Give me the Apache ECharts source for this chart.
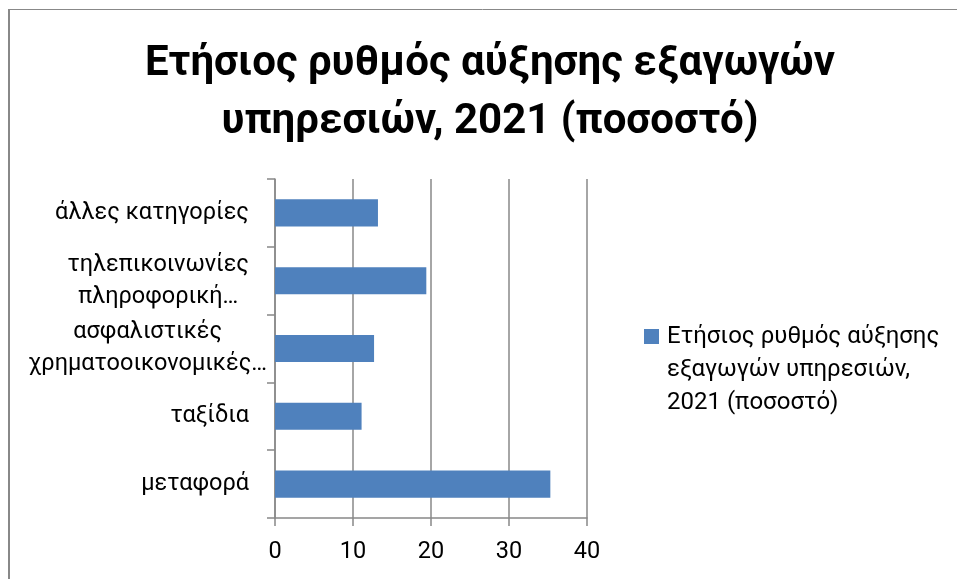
<!DOCTYPE html>
<html>
<head>
<meta charset="utf-8">
<script src="https://cdn.jsdelivr.net/npm/echarts@6/dist/echarts.min.js"></script>
<style>
html,body{margin:0;padding:0;background:#fff;}
#chart{width:957px;height:579px;}
</style>
</head>
<body>
<div id="chart"></div>
<script>
var titleText = 'Ετήσιος ρυθμός αύξησης εξαγωγών\nυπηρεσιών, 2021 (ποσοστό)';
var seriesName = 'Ετήσιος ρυθμός αύξησης\nεξαγωγών υπηρεσιών,\n2021 (ποσοστό)';
var categories = ['μεταφορά', 'ταξίδια', 'ασφαλιστικές\nχρηματοοικονομικές…', 'τηλεπικοινωνίες\nπληροφορική…', 'άλλες κατηγορίες'];
var values = [35.3, 11.1, 12.7, 19.4, 13.2];
var xTicks = [0, 10, 20, 30, 40];

var FONT = 'Roboto';
var GRAY = '#888888';
var widest = categories[2];

var chart = echarts.init(document.getElementById('chart'), null, {renderer: 'canvas'});
chart.setOption({
  backgroundColor: '#ffffff',
  animation: false,
  title: {
    text: titleText,
    left: 490,
    top: 35,
    padding: 0,
    textAlign: 'center',
    textStyle: {fontFamily: FONT, fontWeight: 'bold', fontSize: 42, lineHeight: 58, color: '#000'}
  },
  legend: {
    data: [seriesName],
    left: 644,
    top: 320,
    padding: 0,
    itemWidth: 15,
    itemHeight: 81,
    icon: 'path://M0,0h15v15h-15z M0,80.99h15v0.01h-15z',
    textStyle: {fontFamily: FONT, fontSize: 24, lineHeight: 33, color: '#000', padding: [0, 0, 0, 3]}
  },
  grid: {left: 275, top: 179, width: 312, height: 339, outerBoundsMode: 'none', containLabel: false},
  xAxis: {
    type: 'value',
    min: xTicks[0],
    max: xTicks[xTicks.length - 1],
    interval: xTicks[1] - xTicks[0],
    axisLine: {show: true, lineStyle: {color: GRAY, width: 1.5}},
    axisTick: {show: true, length: 8, lineStyle: {color: GRAY, width: 1.5}},
    splitLine: {show: true, lineStyle: {color: GRAY, width: 1.5}},
    axisLabel: {margin: 22, fontFamily: FONT, fontSize: 23.5, color: '#000'}
  },
  yAxis: {
    type: 'category',
    data: categories.map(function (c) {
      return {value: c, textStyle: {padding: c === widest ? 0 : [0, 18, 0, 0]}};
    }),
    axisLine: {show: true, lineStyle: {color: GRAY, width: 1.5}},
    axisTick: {show: true, length: 8, lineStyle: {color: GRAY, width: 1.5}},
    splitLine: {show: false},
    axisLabel: {
      margin: 8,
      fontFamily: FONT,
      fontSize: 23.5,
      lineHeight: 32,
      color: '#000',
      formatter: function (v) {
        return v.split('\n').map(function (l) { return '{c|' + l + '}'; }).join('\n');
      },
      rich: {c: {align: 'center', fontFamily: FONT, fontSize: 23.5, lineHeight: 32, color: '#000'}}
    }
  },
  series: [{
    name: seriesName,
    type: 'bar',
    data: values,
    barCategoryGap: '60%',
    itemStyle: {color: '#4F81BD'}
  }],
  graphic: [
    {type: 'line', shape: {x1: 9, y1: 9, x2: 9, y2: 600}, style: {stroke: GRAY, lineWidth: 2}},
    {type: 'line', shape: {x1: 8, y1: 9.5, x2: 957, y2: 9.5}, style: {stroke: GRAY, lineWidth: 1}}
  ]
});
</script>
</body>
</html>
